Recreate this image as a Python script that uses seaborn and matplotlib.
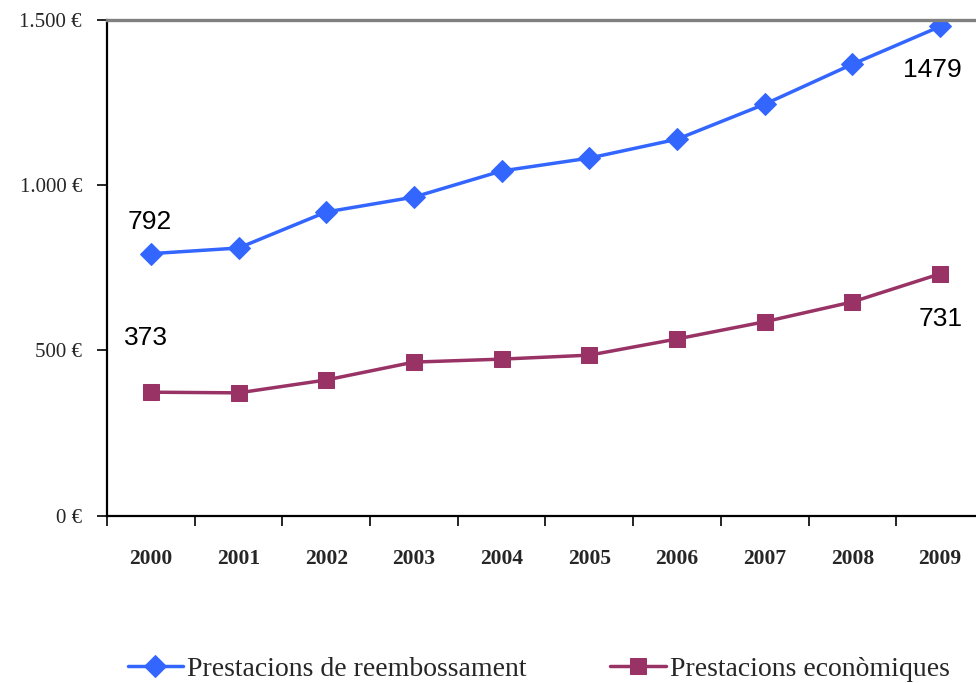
import matplotlib
matplotlib.use("Agg")
import matplotlib.pyplot as plt
from matplotlib.ticker import FuncFormatter, FixedLocator
import seaborn as sns
import pandas as pd

years = ["2000", "2001", "2002", "2003", "2004", "2005", "2006", "2007", "2008", "2009"]
reembossament = [792, 809, 918, 963, 1042, 1081, 1138, 1244, 1365, 1479]
economiques = [373, 371, 410, 464, 473, 485, 534, 586, 646, 731]
series_names = ["Prestacions de reembossament", "Prestacions econòmiques"]
y_ticks = [0, 500, 1000, 1500]

BLUE = "#3366FF"
PURPLE = "#993366"

sns.set_style("white")
plt.rcParams["font.family"] = ["Liberation Serif", "DejaVu Serif"]

fig = plt.figure(figsize=(9.76, 6.83), dpi=100)
ax = fig.add_axes([0.1096, 0.2452, 0.8986, 0.7262])

pos = list(range(len(years)))
df = pd.DataFrame({"pos": pos, "a": reembossament, "b": economiques})

sns.lineplot(data=df, x="pos", y="a", ax=ax, color=BLUE, marker="D", markersize=11,
             markeredgecolor=BLUE, linewidth=2.5, label=series_names[0])
sns.lineplot(data=df, x="pos", y="b", ax=ax, color=PURPLE, marker="s", markersize=12,
             markeredgecolor=PURPLE, linewidth=2.5, label=series_names[1])

ax.set_xlim(-0.5, len(years) - 0.5)
ax.set_ylim(0, 1500)
ax.set_xlabel("")
ax.set_ylabel("")

# x: labels at centers, tick marks at boundaries
ax.set_xticks(pos)
ax.set_xticklabels(years, fontsize=15.5, fontweight="bold")
ax.xaxis.set_minor_locator(FixedLocator([p - 0.5 for p in pos] + [len(years) - 0.5]))
ax.tick_params(axis="x", which="major", length=0, pad=24)
ax.tick_params(axis="x", which="minor", length=7, width=1.2, color="black", direction="out", bottom=True)

ax.set_yticks(y_ticks)
ax.yaxis.set_major_formatter(FuncFormatter(lambda v, _: f"{v:,.0f}".replace(",", ".") + " €"))
ax.tick_params(axis="y", length=7, width=1.2, color="black", direction="out", left=True,
               labelsize=15, pad=11)

for s in ["left", "bottom"]:
    ax.spines[s].set_color("black")
    ax.spines[s].set_linewidth(1.6)
ax.spines["top"].set_color("#808080")
ax.spines["top"].set_linewidth(2.4)
ax.spines["right"].set_visible(False)

lab_font = dict(family=["Liberation Sans", "DejaVu Sans"], fontsize=19, color="black")
ax.annotate(str(reembossament[0]), xy=(0, reembossament[0]), xytext=(-1, 32),
            textcoords="offset pixels", ha="center", va="center", **lab_font)
ax.annotate(str(economiques[0]), xy=(0, economiques[0]), xytext=(-5, 54),
            textcoords="offset pixels", ha="center", va="center", **lab_font)
ax.annotate(str(reembossament[-1]), xy=(9, reembossament[-1]), xytext=(-8, -44),
            textcoords="offset pixels", ha="center", va="center", **lab_font)
ax.annotate(str(economiques[-1]), xy=(9, economiques[-1]), xytext=(0, -45),
            textcoords="offset pixels", ha="center", va="center", **lab_font)

ax.get_legend().remove()
handles, labels = ax.get_legend_handles_labels()
fig.legend(handles, labels, loc="center", bbox_to_anchor=(0.552, 0.02), ncol=2,
           frameon=False, fontsize=20, handlelength=2.0, handletextpad=0.15,
           columnspacing=3.0, borderaxespad=0, borderpad=0)

fig.savefig("out.png", dpi=100, facecolor="white")
